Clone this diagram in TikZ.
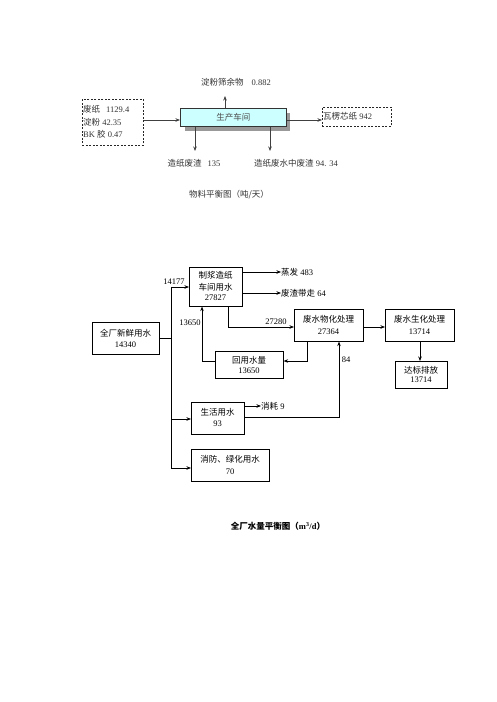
\documentclass[tikz,border=0pt]{standalone}
\usepackage{fontspec}
\setmainfont{Liberation Serif}
\newfontfamily\cjk{Noto Sans CJK SC}
\usetikzlibrary{arrows.meta}
\begin{document}
\begin{tikzpicture}[x=1pt,y=-1pt,
  every node/.style={font=\fontsize{8.5}{11}\selectfont, inner sep=0pt},
  txt/.style={text=black!80},
  tbox/.style={draw=black!85, line width=0.7pt, dashed, dash pattern=on 2pt off 1.5pt},
  box/.style={draw=black, line width=0.6pt, align=center},
  conn/.style={line width=0.6pt, -{Stealth[length=4.5pt,width=3.5pt]}},
  tconn/.style={conn, draw=black!75},
  line/.style={line width=0.6pt}]
\useasboundingbox (0,0) rectangle (496,702);
% ---------- top diagram ----------
\node[tbox, minimum width=61pt, minimum height=46pt, anchor=north west] (in) at (82,99) {};
\node[txt, anchor=west, align=left, font=\fontsize{8.5}{12.5}\selectfont] (intext) at (83,122)
  {{\cjk 废纸}\hspace{6pt}1129.4\\{\cjk 淀粉} 42.35\\BK {\cjk 胶} 0.47};
\fill[black!40] (185,113) rectangle (290,131);
\node[draw=black!80, fill={rgb,255:red,204;green,255;blue,255}, line width=0.6pt, minimum width=106pt, minimum height=18pt, anchor=north west, text=black!70] (prod) at (180,108) {\cjk 生产车间};
\node[tbox, minimum width=69pt, minimum height=19pt, anchor=north west] (out) at (322,107) {};
\node[txt, anchor=west] (outtext) at (323,116.5) {{\cjk 瓦楞芯纸} 942};
\node[txt] (sieve) at (236,82) {{\cjk 淀粉筛余物}\hspace{8pt}0.882};
\node[txt] (waste1) at (194,163) {{\cjk 造纸废渣}\hspace{6pt}135};
\node[txt] (waste2) at (296,163) {{\cjk 造纸废水中废渣} 94. 34};
\node[txt] (cap1) at (229,195) {\cjk 物料平衡图（吨/天）};
\coordinate (sieveend) at (225,96);
\coordinate (w1end) at (195,151);
\coordinate (w2end) at (270,151);
\draw[tconn] (in.east |- 0,120) -- (prod.west |- 0,120);
\draw[tconn] (prod.east |- 0,120) -- (out.west |- 0,120);
\draw[tconn] (prod.north -| sieveend) -- (sieveend);
\draw[tconn] (prod.south -| w1end) -- (w1end);
\draw[tconn] (prod.south -| w2end) -- (w2end);
% ---------- bottom diagram ----------
\node[box, minimum width=67pt, minimum height=32pt, anchor=north west] (fresh) at (92,322) {};
\node at (125.5,333) {\cjk 全厂新鲜用水};
\node at (125.5,345) {14340};
\node[box, minimum width=53pt, minimum height=39pt, anchor=north west] (pulp) at (189,267) {};
\node at (215.5,275) {\cjk 制浆造纸};
\node at (215.5,287) {\cjk 车间用水};
\node at (215.5,298) {27827};
\node[box, minimum width=69pt, minimum height=32pt, anchor=north west] (phys) at (294,309) {};
\node at (328.5,319) {\cjk 废水物化处理};
\node at (328.5,332) {27364};
\node[box, minimum width=69pt, minimum height=32pt, anchor=north west] (bio) at (385,309) {};
\node at (419.5,319) {\cjk 废水生化处理};
\node at (419.5,332) {13714};
\node[box, minimum width=52pt, minimum height=27pt, anchor=north west] (dis) at (395,361) {};
\node at (421,370) {\cjk 达标排放};
\node at (421,380) {13714};
\node[box, minimum width=68pt, minimum height=27pt, anchor=north west] (reuse) at (215,351) {};
\node at (249,360) {\cjk 回用水量};
\node at (249,371) {13650};
\node[box, minimum width=53pt, minimum height=32pt, anchor=north west] (life) at (191,402) {};
\node at (217.5,412) {\cjk 生活用水};
\node at (217.5,424) {93};
\node[box, minimum width=78pt, minimum height=32pt, anchor=north west] (fire) at (191,449) {};
\node at (230,459) {\cjk 消防、绿化用水};
\node at (230,472) {70};
% labels
\node (l14177) at (174,282) {14177};
\node (l13650) at (190,323) {13650};
\node (l27280) at (276,322) {27280};
\node (l84) at (346,360) {84};
\node[anchor=west] (evap) at (281,272) {{\cjk 蒸发} 483};
\node[anchor=west] (slag) at (281,293) {{\cjk 废渣带走} 64};
\node[anchor=west] (cons) at (261,406) {{\cjk 消耗} 9};
\node[font=\bfseries\fontsize{8.5}{11}\selectfont] (cap2) at (278,526) {{\cjk\bfseries 全厂水量平衡图（}m\textsuperscript{3}/d{\cjk\bfseries ）}};
% connectors
\coordinate (tA) at (171,287);
\coordinate (tB) at (171,338);
\coordinate (tC) at (171,419);
\coordinate (tD) at (171,468);
\draw[line] (fresh.east |- tB) -- (tB);
\draw[line] (tA) -- (tD);
\draw[conn] (tA) -- (pulp.west |- tA);
\draw[conn] (tC) -- (life.west |- tC);
\draw[conn] (tD) -- (fire.west |- tD);
\draw[conn] (pulp.east |- 0,272) -- (evap.west);
\draw[conn] (pulp.east |- 0,293) -- (slag.west);
\draw[conn] (pulp.south -| 228,0) -- (228,327) -- (phys.west |- 0,327);
\draw[conn] (phys.south -| 307,0) -- (307,361) -- (reuse.east |- 0,361);
\draw[conn] (reuse.west |- 0,361) -- (202,361) -- (pulp.south -| 202,0);
\draw[conn] (life.east |- 0,417) -- (339,417) -- (phys.south -| 339,0);
\draw[conn] (life.east |- 0,406) -- (cons.west);
\draw[conn] (phys.east |- 0,327) -- (bio.west |- 0,327);
\draw[conn] (bio.south -| 420,0) -- (dis.north -| 420,0);
\end{tikzpicture}
\end{document}
